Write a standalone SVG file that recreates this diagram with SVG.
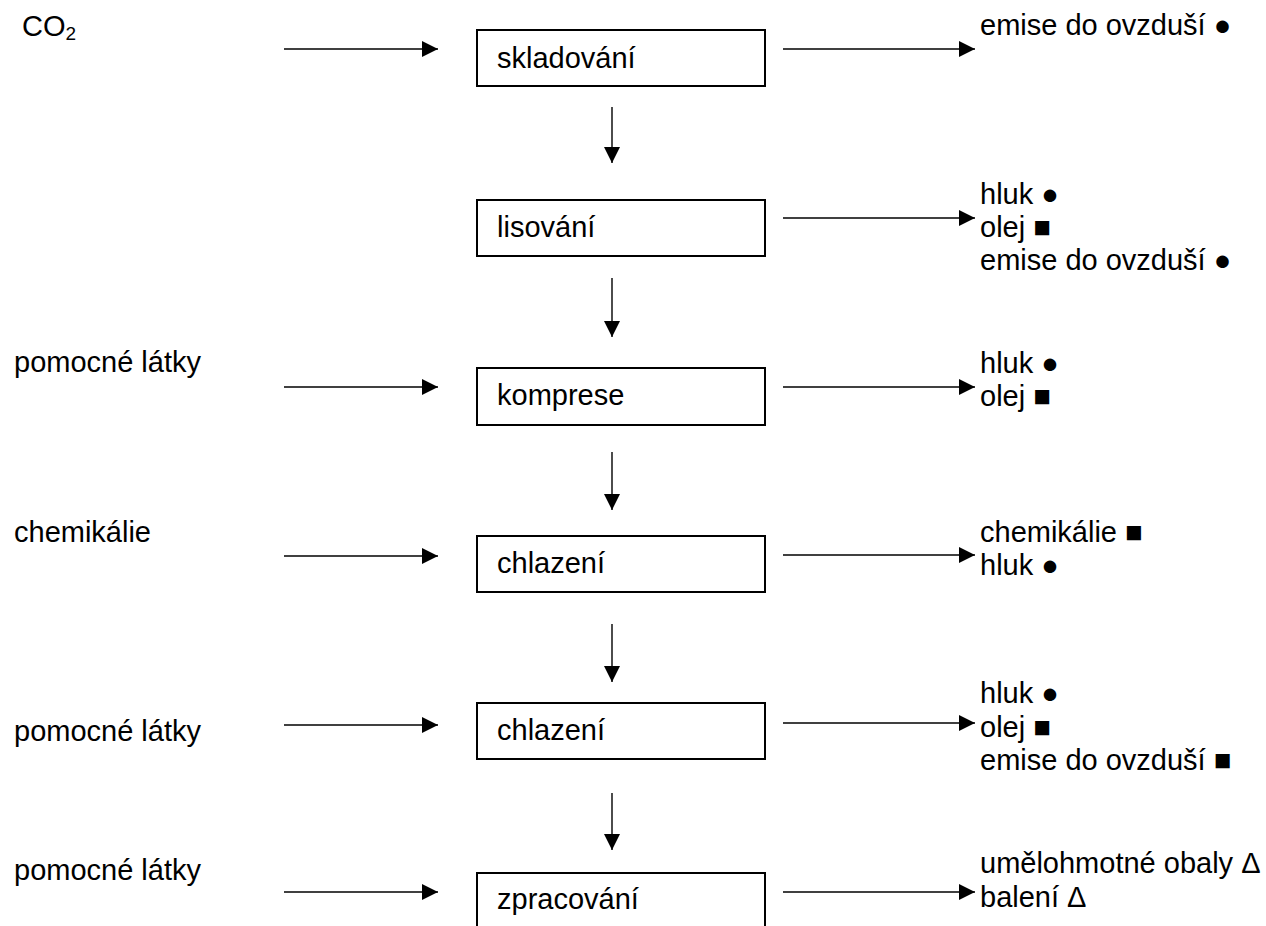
<svg xmlns="http://www.w3.org/2000/svg" width="1266" height="926" viewBox="0 0 1266 926">
<style>
text{font-family:"Liberation Sans",Arial,sans-serif;font-size:29px;fill:#000}
.box{fill:#fff;stroke:#000;stroke-width:2}
.arr{stroke:#000;stroke-width:1.4;fill:none;marker-end:url(#ah)}
</style>
<defs>
<marker id="ah" viewBox="0 0 16 16" refX="16" refY="8" markerWidth="16" markerHeight="16" markerUnits="userSpaceOnUse" orient="auto">
<path d="M0,0 L16,8 L0,16 Z" fill="#000"/>
</marker>
</defs>
<rect width="1266" height="926" fill="#fff"/>
<g id="connectors">
<line class="arr" x1="284" y1="49" x2="438" y2="49"/>
<line class="arr" x1="284" y1="387" x2="438" y2="387"/>
<line class="arr" x1="284" y1="556" x2="438" y2="556"/>
<line class="arr" x1="284" y1="725" x2="438" y2="725"/>
<line class="arr" x1="284" y1="892" x2="438" y2="892"/>
<line class="arr" x1="783" y1="49" x2="975" y2="49"/>
<line class="arr" x1="783" y1="218" x2="975" y2="218"/>
<line class="arr" x1="783" y1="387" x2="975" y2="387"/>
<line class="arr" x1="783" y1="555" x2="975" y2="555"/>
<line class="arr" x1="783" y1="723" x2="975" y2="723"/>
<line class="arr" x1="783" y1="892" x2="975" y2="892"/>
<line class="arr" x1="612" y1="107" x2="612" y2="163"/>
<line class="arr" x1="612" y1="278" x2="612" y2="337"/>
<line class="arr" x1="612" y1="452" x2="612" y2="510"/>
<line class="arr" x1="612" y1="624" x2="612" y2="682"/>
<line class="arr" x1="612" y1="793" x2="612" y2="850"/>
</g>
<g id="n1"><rect class="box" x="477" y="30" width="288" height="56"/><text x="497" y="68">skladování</text></g>
<g id="n2"><rect class="box" x="477" y="200" width="288" height="56"/><text x="497" y="237">lisování</text></g>
<g id="n3"><rect class="box" x="477" y="368" width="288" height="57"/><text x="497" y="405">komprese</text></g>
<g id="n4"><rect class="box" x="477" y="536" width="288" height="56"/><text x="497" y="573">chlazení</text></g>
<g id="n5"><rect class="box" x="477" y="703" width="288" height="56"/><text x="497" y="740">chlazení</text></g>
<g id="n6"><rect class="box" x="477" y="873" width="288" height="60"/><text x="497" y="909">zpracování</text></g>
<g id="in1"><text x="22" y="36">CO<tspan font-size="19" dy="4">2</tspan></text></g>
<g id="in3"><text x="14" y="372">pomocné látky</text></g>
<g id="in4"><text x="14" y="542">chemikálie</text></g>
<g id="in5"><text x="14" y="741">pomocné látky</text></g>
<g id="in6"><text x="14" y="880">pomocné látky</text></g>
<g id="out1"><text x="980" y="35">emise do ovzduší ●</text></g>
<g id="out2"><text x="980" y="204">hluk ●</text><text x="980" y="237">olej ■</text><text x="980" y="270">emise do ovzduší ●</text></g>
<g id="out3"><text x="980" y="373">hluk ●</text><text x="980" y="406">olej ■</text></g>
<g id="out4"><text x="980" y="542">chemikálie ■</text><text x="980" y="575">hluk ●</text></g>
<g id="out5"><text x="980" y="703">hluk ●</text><text x="980" y="737">olej ■</text><text x="980" y="770">emise do ovzduší ■</text></g>
<g id="out6"><text x="980" y="873">umělohmotné obaly Δ</text><text x="980" y="907">balení Δ</text></g>
</svg>
